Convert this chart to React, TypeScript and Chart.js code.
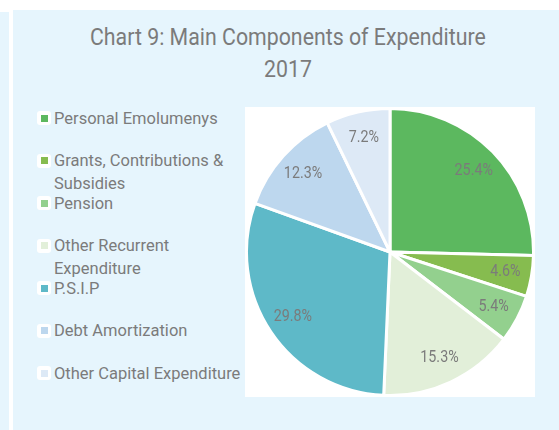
import React, { useEffect, useRef } from "react";
import { Chart, registerables } from "chart.js";

Chart.register(...registerables);

const categories = [
  "Personal Emolumenys",
  "Grants, Contributions &\nSubsidies",
  "Pension",
  "Other Recurrent\nExpenditure",
  "P.S.I.P",
  "Debt Amortization",
  "Other Capital Expenditure",
];
const shares = [25.4, 4.6, 5.4, 15.3, 29.8, 12.3, 7.2];
const sliceColors = ["#5cb85f", "#86bc4f", "#93d08e", "#e2efd9", "#5eb9c8", "#bdd7ee", "#dde9f6"];
const titleLines = ["Chart 9: Main Components of Expenditure", "2017"];

const BG = "#e6f5fd";
const TEXT = "#7b7b7b";
const LABEL_SCALE = 0.84;
const TITLE_SCALE = 0.888;
const LEGEND_SCALE = 0.97;

const labelPlugin = {
  id: "pctLabels",
  afterDatasetsDraw(chart: any) {
    const ctx = chart.ctx;
    const meta = chart.getDatasetMeta(0);
    ctx.save();
    ctx.font = "17px Roboto";
    ctx.fillStyle = TEXT;
    ctx.textAlign = "center";
    ctx.textBaseline = "middle";
    meta.data.forEach((arc: any, i: number) => {
      const { x, y, startAngle, endAngle, outerRadius } = arc.getProps(
        ["x", "y", "startAngle", "endAngle", "outerRadius"],
        true
      );
      const mid = (startAngle + endAngle) / 2;
      const d = outerRadius * 0.815;
      const px = x + Math.cos(mid) * d;
      const py = y + Math.sin(mid) * d;
      ctx.save();
      ctx.translate(px, py);
      ctx.scale(LABEL_SCALE, 1);
      ctx.fillText(shares[i].toFixed(1) + "%", 0, 0);
      ctx.restore();
    });
    ctx.restore();
  },
};

export default function App() {
  const ref = useRef<HTMLCanvasElement | null>(null);

  useEffect(() => {
    document.body.style.margin = "0";
    document.body.style.background = "#ffffff";
    const chart = new Chart(ref.current as HTMLCanvasElement, {
      type: "pie",
      data: {
        labels: categories,
        datasets: [
          {
            data: shares,
            backgroundColor: sliceColors,
            borderColor: "#ffffff",
            borderWidth: 3,
          },
        ],
      },
      options: {
        animation: false,
        responsive: false,
        maintainAspectRatio: false,
        layout: { padding: 0 },
        plugins: {
          legend: { display: false },
          tooltip: { enabled: false },
          title: { display: false },
        },
      },
      plugins: [labelPlugin],
    });
    return () => chart.destroy();
  }, []);

  const font = "Roboto, 'Noto Sans', sans-serif";

  return (
    <div style={{ position: "relative", width: 559, height: 430, background: "#ffffff", overflow: "hidden", fontFamily: font }}>
      <div style={{ position: "absolute", left: 0, top: 12, width: 9, height: 418, background: BG }} />
      <div style={{ position: "absolute", left: 13, top: 10, width: 546, height: 420, background: BG }} />
      {titleLines.map((t, i) => (
        <div
          key={i}
          style={{
            position: "absolute",
            left: 13,
            width: 550,
            top: 22 + i * 32,
            height: 30,
            lineHeight: "30px",
            textAlign: "center",
            fontSize: 24,
            color: TEXT,
            whiteSpace: "nowrap",
          }}
        >
          <span style={{ display: "inline-block", transform: `scaleX(${TITLE_SCALE})`, transformOrigin: "center" }}>{t}</span>
        </div>
      ))}
      {categories.map((c, i) => {
        const cy = 118 + i * 42.5;
        return (
          <div key={i}>
            <div
              style={{
                position: "absolute",
                left: 37,
                top: cy - 7,
                width: 14,
                height: 14,
                background: "#ffffff",
                borderRadius: 3,
              }}
            />
            <div
              style={{
                position: "absolute",
                left: 40.5,
                top: cy - 3.5,
                width: 7,
                height: 7,
                background: sliceColors[i],
              }}
            />
            <div
              style={{
                position: "absolute",
                left: 54,
                top: cy - 11.5,
                fontSize: 17,
                lineHeight: "23px",
                color: TEXT,
                whiteSpace: "pre",
                transform: `scaleX(${LEGEND_SCALE})`,
                transformOrigin: "left top",
              }}
            >
              {c}
            </div>
          </div>
        );
      })}
      <div style={{ position: "absolute", left: 245, top: 107, width: 290, height: 290, background: "#ffffff" }}>
        <canvas ref={ref} width={290} height={290} style={{ display: "block", width: 290, height: 290 }} />
      </div>
    </div>
  );
}
